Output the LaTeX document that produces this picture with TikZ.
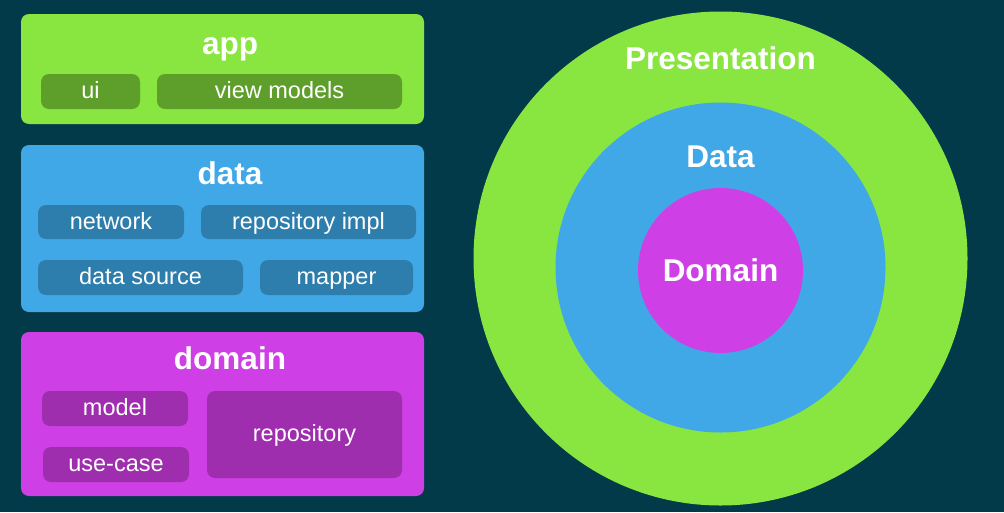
\documentclass[tikz,border=0pt]{standalone}
\usepackage{fontspec}
\setmainfont{Liberation Sans}
\definecolor{bg}{RGB}{2,58,74}
\definecolor{lgreen}{RGB}{137,230,65}
\definecolor{dgreen}{RGB}{94,158,42}
\definecolor{lblue}{RGB}{64,168,230}
\definecolor{dblue}{RGB}{45,125,173}
\definecolor{lpink}{RGB}{206,64,230}
\definecolor{dpink}{RGB}{158,46,173}
\begin{document}
\begin{tikzpicture}[x=1pt,y=-1pt,
  layer/.style={rectangle, rounded corners=8pt, inner sep=0pt, minimum width=403pt},
  sub/.style={rectangle, rounded corners=8pt, inner sep=0pt, text=white,
    font=\fontsize{23.5}{23.5}\selectfont, text height=14pt, text depth=0pt},
  title/.style={anchor=base, inner sep=0pt, text=white,
    font=\fontsize{31.5}{31.5}\selectfont\bfseries},
  ring/.style={circle, inner sep=0pt}]
\fill[bg] (0,0) rectangle (1004,512);
\useasboundingbox (0,0) rectangle (1004,512);
% left layers
\node[layer, fill=lgreen, minimum height=110pt] (app) at (222.5,69) {};
\node[layer, fill=lblue, minimum height=167pt] (data) at (222.5,228.5) {};
\node[layer, fill=lpink, minimum height=164pt] (domain) at (222.5,414) {};
\node[title] (apptitle) at (230,54) {app};
\node[title] (datatitle) at (230,184) {data};
\node[title] (domaintitle) at (230,369) {domain};
% app
\node[sub, fill=dgreen, minimum width=99pt, minimum height=35pt] (ui) at (90.5,91.5) {ui};
\node[sub, fill=dgreen, minimum width=245pt, minimum height=35pt] (vm) at (279.5,91.5) {view models};
% data
\node[sub, fill=dblue, minimum width=146pt, minimum height=34pt] (net) at (111,222) {network};
\node[sub, fill=dblue, minimum width=215pt, minimum height=34pt] (repimpl) at (308.5,222) {repository impl};
\node[sub, fill=dblue, minimum width=205pt, minimum height=35pt] (ds) at (140.5,277.5) {data source};
\node[sub, fill=dblue, minimum width=153pt, minimum height=35pt] (mapper) at (336.5,277.5) {mapper};
% domain
\node[sub, fill=dpink, minimum width=146pt, minimum height=35pt] (model) at (115,408.5) {model};
\node[sub, fill=dpink, minimum width=146pt, minimum height=35pt] (uc) at (116,464.5) {use-case};
\node[sub, fill=dpink, minimum width=195pt, minimum height=87pt] (repo) at (304.5,434.5) {repository};
% rings
\node[ring, fill=lgreen, minimum size=494pt] (pres) at (720.5,258.5) {};
\node[ring, fill=lblue, minimum size=330pt] (dataring) at (720.5,267.5) {};
\node[ring, fill=lpink, minimum size=165pt] (domring) at (720.5,270.5) {};
\node[title] (prestitle) at (720.5,69) {Presentation};
\node[title] (dataringtitle) at (720.5,167) {Data};
\node[title] (domringtitle) at (720.5,281) {Domain};
\end{tikzpicture}
\end{document}
